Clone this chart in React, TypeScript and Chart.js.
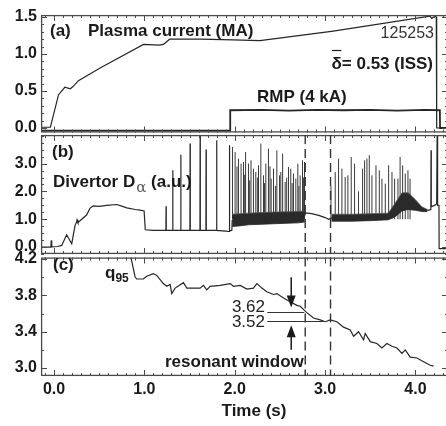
import React, { useEffect, useRef } from "react";
import { Chart, registerables } from "chart.js";

Chart.register(...registerables);

const FONT = '"Liberation Sans", Arial, Helvetica, sans-serif';
const INK = "#1a1a1a";
const TRACE = "#262626";
const FRAME = "#4a4a4a";

const CANVAS_W = 448;
const CANVAS_H = 426;

// ---- shared time axis ----
const X_MIN = -0.144;
const X_MAX = 4.36;
const xTickLabels = [0, 1, 2, 3, 4];
const X_MINOR_STEP = 0.1;
const dashedTimes = [2.78, 3.06];

// ---- panel (a): plasma current and RMP ----
const aYTicks = [0, 0.5, 1.0, 1.5];
const A_Y_MIN = -0.061;
const A_Y_MAX = 1.527;
const A_Y_MINOR = 0.1;
const ipTime = [-0.144, -0.04, 0.05, 0.12, 0.18, 0.21, 0.27, 0.51, 0.99, 1.16, 1.21, 1.28, 1.62, 1.98, 2.28, 3.09, 4.16, 4.18, 4.2, 4.22, 4.23, 4.235, 4.36];
const ipValue = [0.01, 0.01, 0.45, 0.55, 0.53, 0.56, 0.64, 0.81, 1.13, 1.12, 1.13, 1.2, 1.2, 1.19, 1.18, 1.31, 1.51, 1.48, 1.5, 1.51, 1.5, 0.0, 0.0];
const rmpTime = [-0.144, 1.949, 1.95, 2.3, 2.6, 2.9, 3.2, 3.5, 3.8, 4.1, 4.27, 4.272, 4.36];
const rmpValue = [-0.035, -0.035, 0.24, 0.245, 0.235, 0.245, 0.24, 0.245, 0.235, 0.245, 0.24, 0.0, 0.0];

// ---- panel (b): divertor D-alpha ----
const bYTicks = [0, 1, 2, 3];
const B_Y_MIN = -0.25;
const B_Y_MAX = 4.03;
const B_Y_MINOR = 0.25;
const daTime = [
  -0.144, -0.035, -0.03, -0.025, 0.04, 0.085, 0.14, 0.196, 0.233, 0.25, 0.255, 0.265, 0.307, 0.36, 0.399,
  0.436, 0.5, 0.583, 0.694, 0.75, 0.805, 0.9, 0.952, 0.997, 1.01, 1.1, 1.238, 1.24, 1.242, 1.312, 1.314,
  1.316, 1.401, 1.403, 1.405, 1.504, 1.506, 1.508, 1.615, 1.617, 1.619, 1.681, 1.683, 1.685, 1.798, 1.8,
  1.802, 1.9, 1.938, 1.94, 1.945, 1.968, 1.972, 2.2, 2.5, 2.77, 2.785, 2.85, 2.93, 3.0, 3.04, 3.07, 3.4,
  3.7, 3.8, 3.9, 4.0, 4.07, 4.14, 4.17, 4.172, 4.175, 4.21, 4.235, 4.24, 4.245, 4.26, 4.262, 4.36,
];
const daValue = [
  0.0, 0.0, 0.24, 0.01, 0.02, 0.06, 0.44, 0.12, 0.78, 0.9, 0.98, 0.88, 1.0, 1.15, 1.4,
  1.48, 1.46, 1.5, 1.53, 1.47, 1.41, 1.35, 1.33, 1.3, 0.62, 0.6, 0.6, 1.47, 0.6, 0.6, 2.76,
  0.6, 0.61, 3.32, 0.61, 0.6, 3.72, 0.6, 0.6, 4.1, 0.6, 0.6, 3.51, 0.6, 0.61, 3.84,
  0.6, 0.57, 0.56, 3.66, 0.58, 0.6, 0.95, 0.98, 1.02, 1.1, 1.23, 1.2, 1.14, 1.06, 1.0, 1.05, 1.05,
  1.1, 1.4, 1.65, 1.5, 1.38, 1.32, 1.35, 3.48, 1.45, 1.5, 1.55, 4.2, 1.5, 1.5, -0.06, -0.06,
];
const band1Time = [1.972, 2.05, 2.15, 2.3, 2.45, 2.6, 2.7, 2.775];
const band1Low = [0.74, 0.76, 0.8, 0.82, 0.84, 0.86, 0.87, 0.9];
const band1High = [1.18, 1.2, 1.22, 1.24, 1.26, 1.27, 1.28, 1.3];
const band2Time = [3.07, 3.3, 3.5, 3.7, 3.78, 3.85, 3.92, 4.0, 4.07, 4.13];
const band2Low = [0.93, 0.93, 0.95, 0.98, 1.1, 1.3, 1.35, 1.32, 1.28, 1.27];
const band2High = [1.18, 1.18, 1.2, 1.22, 1.6, 1.95, 1.95, 1.7, 1.45, 1.35];
const ELM_BASE = 1.0;
const elmTime = [
  1.975, 2.004, 2.025, 2.041, 2.07, 2.097, 2.11, 2.12, 2.152, 2.165, 2.18, 2.207, 2.233, 2.25, 2.263, 2.289,
  2.318, 2.33, 2.344, 2.373, 2.39, 2.403, 2.429, 2.45, 2.466, 2.496, 2.51, 2.53, 2.558, 2.575, 2.595, 2.62,
  2.635, 2.65, 2.676, 2.698, 2.71, 2.724, 2.75, 2.76, 2.772,
  3.065, 3.112, 3.149, 3.186, 3.222, 3.252, 3.289, 3.326, 3.37, 3.415, 3.437, 3.463, 3.489, 3.518, 3.563,
  3.6, 3.629, 3.666, 3.703, 3.74, 3.769, 3.806, 3.83, 3.858, 3.887, 3.917, 3.94,
];
const elmPeak = [
  3.6, 3.42, 2.9, 3.18, 3.0, 3.06, 2.6, 3.42, 3.0, 2.4, 3.12, 2.82, 2.7, 2.5, 2.94, 3.72,
  2.58, 2.3, 3.0, 3.54, 2.9, 2.46, 2.82, 2.2, 3.48, 2.58, 2.7, 3.36, 2.34, 2.5, 2.88, 2.82,
  2.3, 2.64, 2.46, 3.0, 2.2, 2.58, 3.12, 2.5, 3.06,
  2.2, 2.7, 3.18, 2.82, 2.52, 2.58, 3.24, 3.0, 2.0, 2.82, 3.12, 3.18, 3.3, 2.58, 2.94,
  2.76, 2.46, 2.28, 2.94, 2.7, 2.46, 2.46, 3.24, 2.94, 2.64, 2.76, 2.46,
];

// ---- panel (c): q95 ----
const cYTicks = [3.0, 3.4, 3.8, 4.2];
const C_Y_MIN = 2.912;
const C_Y_MAX = 4.217;
const C_Y_MINOR = 0.2;
const q95Time = [
  0.842, 0.897, 0.915, 0.989, 1.026, 1.1, 1.137, 1.21, 1.248, 1.285, 1.303, 1.34, 1.432, 1.47, 1.617, 1.654,
  1.69, 1.728, 1.838, 1.949, 1.986, 2.06, 2.134, 2.207, 2.245, 2.3, 2.355, 2.429, 2.466, 2.54, 2.613, 2.688,
  2.724, 2.798, 2.872, 2.946, 3.001, 3.056, 3.13, 3.204, 3.278, 3.315, 3.37, 3.425, 3.444, 3.5, 3.573, 3.629,
  3.684, 3.74, 3.795, 3.85, 3.887, 3.942, 4.017, 4.09, 4.164, 4.2,
];
const q95Value = [
  4.26, 4.005, 3.98, 3.98, 4.01, 4.04, 4.02, 3.93, 3.9, 3.92, 3.82, 3.88, 3.94, 3.88, 3.88, 3.91,
  3.86, 3.9, 3.91, 3.93, 3.9, 3.91, 3.87, 3.88, 3.93, 3.88, 3.84, 3.81, 3.82, 3.77, 3.73, 3.69,
  3.68, 3.61, 3.55, 3.53, 3.51, 3.53, 3.51, 3.45, 3.42, 3.35, 3.4, 3.31, 3.38, 3.29, 3.27, 3.22,
  3.27, 3.24, 3.22, 3.16, 3.2, 3.12, 3.11, 3.07, 3.03, 3.02,
];
const windowLevels = [3.62, 3.52];
const windowLabels = ["3.62", "3.52"];
const windowLineStart = 2.36;
const windowLineEnd = [2.77, 3.0];
const arrowTime = 2.625;
const arrowDown = [4.0, 3.665];
const arrowUp = [3.2, 3.47];

type Pt = { x: number; y: number | null };
const pts = (ts: number[], vs: number[]): Pt[] => ts.map((t, i) => ({ x: t, y: vs[i] }));

function drawFrame(chart: any, yTicks: number[], yMinor: number, yMin: number, yMax: number) {
  const { ctx, chartArea: a, scales } = chart;
  const xs = scales.x;
  const ys = scales.y;
  ctx.save();
  ctx.strokeStyle = FRAME;
  ctx.lineWidth = 1.3;
  ctx.strokeRect(a.left + 0.6, a.top + 0.6, a.right - a.left - 1.2, a.bottom - a.top - 1.2);
  ctx.lineWidth = 1;
  ctx.beginPath();
  for (let k = Math.ceil(X_MIN / X_MINOR_STEP); k * X_MINOR_STEP <= X_MAX + 1e-9; k++) {
    const t = Math.round(k * X_MINOR_STEP * 10) / 10;
    const px = Math.round(xs.getPixelForValue(t)) + 0.5;
    const major = Math.abs(t - Math.round(t)) < 1e-6;
    const len = major ? 6 : 3;
    ctx.moveTo(px, a.bottom);
    ctx.lineTo(px, a.bottom - len);
    ctx.moveTo(px, a.top);
    ctx.lineTo(px, a.top + len);
  }
  for (let k = Math.ceil(yMin / yMinor); k * yMinor <= yMax + 1e-9; k++) {
    const v = Math.round(k * yMinor * 1000) / 1000;
    const py = Math.round(ys.getPixelForValue(v)) + 0.5;
    const major = yTicks.some((m) => Math.abs(m - v) < 1e-6);
    const len = major ? 6 : 3;
    ctx.moveTo(a.left, py);
    ctx.lineTo(a.left + len, py);
    ctx.moveTo(a.right, py);
    ctx.lineTo(a.right - len, py);
  }
  ctx.stroke();
  ctx.restore();
}

function drawDashed(chart: any) {
  const { ctx, chartArea: a, scales } = chart;
  ctx.save();
  ctx.strokeStyle = "#333";
  ctx.lineWidth = 1.4;
  ctx.setLineDash([9, 5]);
  for (const t of dashedTimes) {
    const px = scales.x.getPixelForValue(t);
    ctx.beginPath();
    ctx.moveTo(px, a.top);
    ctx.lineTo(px, a.bottom);
    ctx.stroke();
  }
  ctx.restore();
}

function makeChart(
  canvas: HTMLCanvasElement,
  cfg: {
    padTop: number;
    padBottom: number;
    yMin: number;
    yMax: number;
    yTicks: number[];
    yMinor: number;
    showX: boolean;
    datasets: any[];
    draw: (chart: any) => void;
  }
) {
  const tickFont = { family: FONT, size: 16, weight: "bold" as const };
  return new Chart(canvas, {
    type: "line",
    data: { datasets: cfg.datasets },
    options: {
      animation: false,
      responsive: false,
      maintainAspectRatio: false,
      events: [],
      layout: { padding: { top: cfg.padTop, bottom: cfg.padBottom, left: 0, right: 0 } },
      plugins: { legend: { display: false }, tooltip: { enabled: false }, title: { display: false } },
      elements: { point: { radius: 0 }, line: { tension: 0 } },
      scales: {
        x: {
          type: "linear",
          min: X_MIN,
          max: X_MAX,
          display: cfg.showX,
          offset: false,
          afterBuildTicks: (s: any) => {
            s.ticks = xTickLabels.map((v) => ({ value: v }));
          },
          afterFit: (s: any) => {
            s.height = cfg.showX ? 50 : 0;
          },
          grid: { display: false, drawTicks: false },
          border: { display: false },
          ticks: {
            font: tickFont,
            color: INK,
            padding: 4,
            maxRotation: 0,
            autoSkip: false,
            callback: (v: any) => Number(v).toFixed(1),
          },
        },
        y: {
          type: "linear",
          min: cfg.yMin,
          max: cfg.yMax,
          afterBuildTicks: (s: any) => {
            s.ticks = cfg.yTicks.map((v) => ({ value: v }));
          },
          afterFit: (s: any) => {
            s.width = 41;
          },
          grid: { display: false, drawTicks: false },
          border: { display: false },
          ticks: {
            font: tickFont,
            color: INK,
            padding: 4,
            autoSkip: false,
            callback: (v: any) => Number(v).toFixed(1),
          },
        },
      },
    } as any,
    plugins: [
      {
        id: "frameAndNotes",
        afterDatasetsDraw: (chart: any) => {
          drawFrame(chart, cfg.yTicks, cfg.yMinor, cfg.yMin, cfg.yMax);
          cfg.draw(chart);
        },
      },
    ],
  });
}

const lineDs = (data: Pt[], extra: any = {}) => ({
  data,
  borderColor: TRACE,
  borderWidth: 1.2,
  pointRadius: 0,
  fill: false,
  spanGaps: false,
  ...extra,
});

export default function App() {
  const refA = useRef<HTMLCanvasElement>(null);
  const refB = useRef<HTMLCanvasElement>(null);
  const refC = useRef<HTMLCanvasElement>(null);

  useEffect(() => {
    const charts: Chart[] = [];

    // ---------- (a) ----------
    charts.push(
      makeChart(refA.current!, {
        padTop: 15,
        padBottom: CANVAS_H - 132.5,
        yMin: A_Y_MIN,
        yMax: A_Y_MAX,
        yTicks: aYTicks,
        yMinor: A_Y_MINOR,
        showX: false,
        datasets: [
          lineDs(pts(rmpTime, rmpValue), { borderWidth: 1.8 }),
          lineDs(pts(ipTime, ipValue)),
        ],
        draw: (chart: any) => {
          const { ctx } = chart;
          ctx.save();
          ctx.fillStyle = INK;
          ctx.textBaseline = "middle";
          ctx.textAlign = "left";
          ctx.font = `bold 17px ${FONT}`;
          ctx.fillText("(a)", 50, 31);
          ctx.fillText("Plasma current (MA)", 88, 31);
          ctx.fillText("RMP (4 kA)", 257, 97);
          ctx.textAlign = "right";
          ctx.fillStyle = "#333";
          ctx.font = `16px ${FONT}`;
          ctx.fillText("125253", 434, 34);
          ctx.fillStyle = INK;
          ctx.font = `bold 17px ${FONT}`;
          const s = "δ= 0.53 (ISS)";
          ctx.fillText(s, 433, 64);
          const w = ctx.measureText(s).width;
          const dw = ctx.measureText("δ").width;
          ctx.strokeStyle = INK;
          ctx.lineWidth = 1.2;
          ctx.beginPath();
          ctx.moveTo(433 - w + 0.5, 50.5);
          ctx.lineTo(433 - w + dw - 0.5, 50.5);
          ctx.stroke();
          ctx.restore();
        },
      })
    );

    // ---------- (b) ----------
    const elmSegments: Pt[] = elmTime.flatMap((t, i) => [
      { x: t, y: ELM_BASE },
      { x: t, y: elmPeak[i] },
      { x: t, y: null },
    ]);
    charts.push(
      makeChart(refB.current!, {
        padTop: 135,
        padBottom: CANVAS_H - 254,
        yMin: B_Y_MIN,
        yMax: B_Y_MAX,
        yTicks: bYTicks,
        yMinor: B_Y_MINOR,
        showX: false,
        datasets: [
          lineDs(pts(band1Time, band1Low), { borderWidth: 0.8 }),
          lineDs(pts(band1Time, band1High), { borderWidth: 0.8, borderColor: "#555", fill: "-1", backgroundColor: "#2a2a2a" }),
          lineDs(pts(band2Time, band2Low), { borderWidth: 0.8 }),
          lineDs(pts(band2Time, band2High), { borderWidth: 0.8, borderColor: "#555", fill: "-1", backgroundColor: "#2a2a2a" }),
          lineDs(elmSegments, { borderWidth: 1, borderColor: "#3a3a3a" }),
          lineDs(pts(daTime, daValue)),
        ],
        draw: (chart: any) => {
          const { ctx } = chart;
          drawDashed(chart);
          ctx.save();
          ctx.fillStyle = INK;
          ctx.textBaseline = "middle";
          ctx.textAlign = "left";
          ctx.font = `bold 17px ${FONT}`;
          ctx.fillText("(b)", 52, 152);
          const d = "Divertor D";
          ctx.fillText(d, 53, 182);
          const dWidth = ctx.measureText(d).width;
          ctx.font = `15px "DejaVu Serif", serif`;
          ctx.fillStyle = "#5a5a5a";
          ctx.fillText("α", 53 + dWidth + 1, 188);
          const aWidth = ctx.measureText("α").width;
          ctx.font = `bold 17px ${FONT}`;
          ctx.fillStyle = INK;
          ctx.fillText(" (a.u.)", 53 + dWidth + aWidth + 1, 182);
          ctx.restore();
        },
      })
    );

    // ---------- (c) ----------
    charts.push(
      makeChart(refC.current!, {
        padTop: 257.5,
        padBottom: 0,
        yMin: C_Y_MIN,
        yMax: C_Y_MAX,
        yTicks: cYTicks,
        yMinor: C_Y_MINOR,
        showX: true,
        datasets: [lineDs(pts(q95Time, q95Value))],
        draw: (chart: any) => {
          const { ctx, scales } = chart;
          const xs = scales.x;
          const ys = scales.y;
          drawDashed(chart);
          ctx.save();
          ctx.strokeStyle = "#333";
          ctx.lineWidth = 1;
          windowLevels.forEach((lv, i) => {
            const py = Math.round(ys.getPixelForValue(lv)) + 0.5;
            ctx.beginPath();
            ctx.moveTo(xs.getPixelForValue(windowLineStart), py);
            ctx.lineTo(xs.getPixelForValue(windowLineEnd[i]), py);
            ctx.stroke();
          });
          const ax = xs.getPixelForValue(arrowTime);
          const drawArrow = (from: number, to: number) => {
            const y0 = ys.getPixelForValue(from);
            const y1 = ys.getPixelForValue(to);
            const dir = Math.sign(y1 - y0);
            ctx.lineWidth = 1.5;
            ctx.strokeStyle = INK;
            ctx.beginPath();
            ctx.moveTo(ax, y0);
            ctx.lineTo(ax, y1 - dir * 8);
            ctx.stroke();
            ctx.fillStyle = INK;
            ctx.beginPath();
            ctx.moveTo(ax, y1);
            ctx.lineTo(ax - 4.5, y1 - dir * 12);
            ctx.lineTo(ax + 4.5, y1 - dir * 12);
            ctx.closePath();
            ctx.fill();
          };
          drawArrow(arrowDown[0], arrowDown[1]);
          drawArrow(arrowUp[0], arrowUp[1]);
          ctx.fillStyle = INK;
          ctx.textBaseline = "middle";
          ctx.textAlign = "left";
          ctx.font = `bold 17px ${FONT}`;
          ctx.fillText("(c)", 53, 265);
          ctx.fillText("resonant window", 165, 362);
          ctx.textBaseline = "alphabetic";
          ctx.fillText("q", 105, 278);
          const qw = ctx.measureText("q").width;
          ctx.font = `bold 12px ${FONT}`;
          ctx.fillText("95", 105 + qw, 282);
          ctx.textBaseline = "middle";
          ctx.textAlign = "right";
          ctx.font = `17px ${FONT}`;
          ctx.fillStyle = "#222";
          ctx.fillText(windowLabels[0], 265, 307);
          ctx.fillText(windowLabels[1], 265, 322.5);
          ctx.textAlign = "center";
          ctx.font = `bold 17px ${FONT}`;
          ctx.fillStyle = INK;
          ctx.fillText("Time (s)", 254, 411);
          ctx.restore();
        },
      })
    );

    return () => {
      charts.forEach((c) => c.destroy());
    };
  }, []);

  const cs: React.CSSProperties = { position: "absolute", left: 0, top: 0 };
  return (
    <div
      style={{
        position: "fixed",
        left: 0,
        top: 0,
        width: 446,
        height: 426,
        overflow: "hidden",
        background: "#fff",
      }}
    >
      <canvas ref={refA} width={CANVAS_W} height={CANVAS_H} style={cs} />
      <canvas ref={refB} width={CANVAS_W} height={CANVAS_H} style={cs} />
      <canvas ref={refC} width={CANVAS_W} height={CANVAS_H} style={cs} />
    </div>
  );
}
